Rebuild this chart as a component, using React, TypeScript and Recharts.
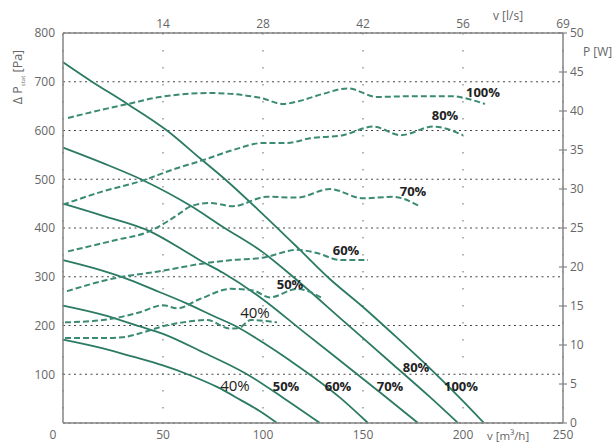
import React from 'react';
import { LineChart, Line, XAxis, YAxis, CartesianGrid, ReferenceDot } from 'recharts';

// Pressure curves: [airflow m³/h, ΔP Pa]
const p100: [number, number][] = [[0,740],[14.5,700],[32,655],[52,600],[68.5,543],[81,500],[100,428],[118.5,355],[133,297],[150,238],[167,175],[184,110],[200,45],[210.5,0]];
const p80: [number, number][] = [[0,565],[20,533],[40,498],[64,445],[80,402],[100,350],[115,300],[140,210],[165,120],[183,55],[197.5,0]];
const p70: [number, number][] = [[0,450],[20,425],[43.5,393],[60,355],[68.5,334],[80,308],[98.5,258],[120,188],[140,123],[160,58],[177.5,0]];
const p60: [number, number][] = [[0,334],[15,318],[31,297],[45,274],[62,245],[75,220],[88.5,194],[100,165],[113.5,128],[138.5,52],[152.5,0]];
const p50: [number, number][] = [[0,241],[20,222],[38.5,198],[50,183],[70,145],[92,100],[110,52],[128.5,0]];
const p40: [number, number][] = [[0,171],[20,153],[35,136],[50,118],[63.5,98],[77,74],[88.5,48],[98.5,24],[107,0]];

// Power curves: [airflow m³/h, P W]
const w100: [number, number][] = [[2.5,39.1],[20,40.2],[32.5,40.9],[48.5,41.8],[73.5,42.3],[98.5,41.7],[110,40.9],[118.5,41.3],[130,42.2],[142.5,42.9],[157,41.8],[175,41.9],[195,41.9],[200,41.7],[211,40.9]];
const w80: [number, number][] = [[0,28.0],[20,29.7],[40,31.1],[55,32.5],[70,33.7],[85,35.0],[100,35.9],[112,35.9],[123.5,36.5],[140,36.9],[155,38.0],[169,36.9],[185,38.0],[200,36.9]];
const w70: [number, number][] = [[2.5,22.0],[27,23.5],[42.5,24.5],[52,25.8],[58.5,26.9],[64,27.8],[73.5,28.2],[85,27.8],[102,29.0],[117,28.9],[133.5,30.0],[150,28.8],[165,29.0],[177.5,27.9]];
const w60: [number, number][] = [[2,16.9],[26.5,18.6],[47,19.4],[71.5,20.5],[85,20.9],[100,21.2],[117,22.2],[127,21.8],[138.5,20.9],[152.5,20.9]];
const w50: [number, number][] = [[1,12.9],[20,13.2],[38.5,14.2],[50,15.1],[57,14.7],[68.5,15.9],[84,17.2],[95,17.0],[103.5,16.1],[117,17.2],[129,16.1]];
const w40: [number, number][] = [[1,10.9],[20,10.9],[30,11.0],[38.5,11.5],[50,12.4],[60,12.9],[72,13.2],[83.5,12.1],[88,12.2],[94,13.2],[107,12.9]];

const xTicks = [0, 50, 100, 150, 200, 250];
const topTicks = [50, 100, 150, 200, 250];
const topTickLabels = ['14', '28', '42', '56', '69'];
const paTicks = [100, 200, 300, 400, 500, 600, 700, 800];
const wTicks = [0, 5, 10, 15, 20, 25, 30, 35, 40, 45, 50];

// Curve labels (airflow m³/h, ΔP Pa)
const curveLabels: { t: string; x: number; y: number }[] = [
  { t: '40%', x: 86, y: 76 },
  { t: '50%', x: 111.5, y: 76 },
  { t: '60%', x: 137.5, y: 76 },
  { t: '70%', x: 163.5, y: 76 },
  { t: '80%', x: 176.5, y: 115 },
  { t: '100%', x: 199, y: 76 },
  { t: '100%', x: 210, y: 679 },
  { t: '80%', x: 191, y: 630 },
  { t: '70%', x: 175, y: 476 },
  { t: '60%', x: 141.5, y: 355 },
  { t: '50%', x: 113.5, y: 285 },
  { t: '40%', x: 96, y: 226 },
];

const toPts = (a: [number, number][]) => a.map(([x, y]) => ({ x, y }));

const FONT = '"Open Sans", "DejaVu Sans", sans-serif';
const SOLID = '#2b7a64';
const DASHED = '#3a8a74';
const AXIS = '#858585';
const TICK = '#666';

const pressureSeries = [p100, p80, p70, p60, p50, p40];
const powerSeries = [w100, w80, w70, w60, w50, w40];

const RightTick = (props: any) => {
  const { x, y, payload } = props;
  return (
    <g>
      <line x1={x - 11} x2={x - 3} y1={y} y2={y} stroke={AXIS} strokeWidth={1.2} />
      <text x={x} y={y} dy="0.35em" textAnchor="start" fill={TICK} fontSize={12} fontFamily={FONT}>
        {payload.value}
      </text>
    </g>
  );
};

const BottomTick = (props: any) => {
  const { x, y, payload } = props;
  const shift = payload.value === 0 ? -10 : 0;
  return (
    <text x={x + shift} y={y} dy="0.8em" textAnchor="middle" fill={TICK} fontSize={12} fontFamily={FONT}>
      {payload.value}
    </text>
  );
};

const TopTick = (props: any) => {
  const { x, y, payload } = props;
  const i = topTicks.indexOf(payload.value);
  return (
    <text x={x} y={y} textAnchor="middle" fill={TICK} fontSize={12} fontFamily={FONT}>
      {i >= 0 ? topTickLabels[i] : ''}
    </text>
  );
};

export default function App() {
  return (
    <div style={{ position: 'fixed', left: 0, top: 0, width: 616, height: 443, background: '#fff' }}>
      <LineChart width={616} height={443} margin={{ top: 0, right: 0, bottom: 0, left: 0 }}>
        <CartesianGrid xAxisId="bottom" yAxisId="pa" vertical={false} stroke="#444" strokeDasharray="2 3.5" strokeWidth={1} />
        <CartesianGrid xAxisId="bottom" yAxisId="pa" horizontal={false} stroke="#888" strokeDasharray="1.5 15.5" strokeWidth={1.3} />
        <XAxis
          xAxisId="bottom"
          type="number"
          dataKey="x"
          domain={[0, 250]}
          ticks={xTicks}
          height={20}
          tickLine={false}
          tickSize={0}
          tickMargin={6}
          axisLine={{ stroke: AXIS, strokeWidth: 1.5 }}
          tick={<BottomTick />}
          label={{
            content: () => (
              <text x={487} y={436} dy="0.35em" fill={TICK} fontSize={11.5} fontFamily={FONT}>
                v [m³/h]
              </text>
            ),
          }}
        />
        <XAxis
          xAxisId="top"
          orientation="top"
          type="number"
          dataKey="x"
          domain={[0, 250]}
          ticks={topTicks}
          height={33}
          tickLine={false}
          tickSize={0}
          tickMargin={5}
          axisLine={{ stroke: AXIS, strokeWidth: 1.5 }}
          tick={<TopTick />}
          label={{
            content: () => (
              <text x={493} y={16} dy="0.35em" fill={TICK} fontSize={12} fontFamily={FONT}>
                v [l/s]
              </text>
            ),
          }}
        />
        <YAxis
          yAxisId="pa"
          type="number"
          domain={[0, 800]}
          ticks={paTicks}
          width={63}
          tickLine={false}
          tickSize={0}
          tickMargin={8}
          axisLine={{ stroke: AXIS, strokeWidth: 1.5 }}
          tick={{ fill: TICK, fontSize: 12, fontFamily: FONT }}
          label={{
            content: () => (
              <text
                x={18}
                y={77}
                transform="rotate(-90 18 77)"
                textAnchor="middle"
                dy="0.35em"
                fill={TICK}
                fontSize={12.5}
                fontFamily={FONT}
              >
                Δ P
                <tspan fontSize={6} dy="3">stat</tspan>
                <tspan dy="-3"> [Pa]</tspan>
              </text>
            ),
          }}
        />
        <YAxis
          yAxisId="w"
          orientation="right"
          type="number"
          domain={[0, 50]}
          ticks={wTicks}
          width={53}
          tickLine={false}
          tickSize={0}
          tickMargin={7}
          axisLine={{ stroke: AXIS, strokeWidth: 1.5 }}
          tick={<RightTick />}
          label={{
            content: () => (
              <text x={583} y={52} dy="0.35em" fill={TICK} fontSize={12} fontFamily={FONT}>
                P [W]
              </text>
            ),
          }}
        />
        {pressureSeries.map((s, i) => (
          <Line
            key={'p' + i}
            xAxisId="bottom"
            yAxisId="pa"
            data={toPts(s)}
            dataKey="y"
            type="monotone"
            stroke={SOLID}
            strokeWidth={1.8}
            dot={false}
            isAnimationActive={false}
          />
        ))}
        {powerSeries.map((s, i) => (
          <Line
            key={'w' + i}
            xAxisId="top"
            yAxisId="w"
            data={toPts(s)}
            dataKey="y"
            type="monotone"
            stroke={DASHED}
            strokeWidth={2}
            strokeDasharray="6 3"
            dot={false}
            isAnimationActive={false}
          />
        ))}
        {curveLabels.map((l, i) => (
          <ReferenceDot
            key={'l' + i}
            xAxisId="bottom"
            yAxisId="pa"
            x={l.x}
            y={l.y}
            r={0}
            fill="none"
            stroke="none"
            label={{
              value: l.t,
              position: 'center',
              fill: '#222',
              fontSize: l.t === '40%' ? 15 : 13,
              fontWeight: l.t === '40%' ? 400 : 700,
              fontFamily: FONT,
            }}
          />
        ))}
      </LineChart>
    </div>
  );
}
